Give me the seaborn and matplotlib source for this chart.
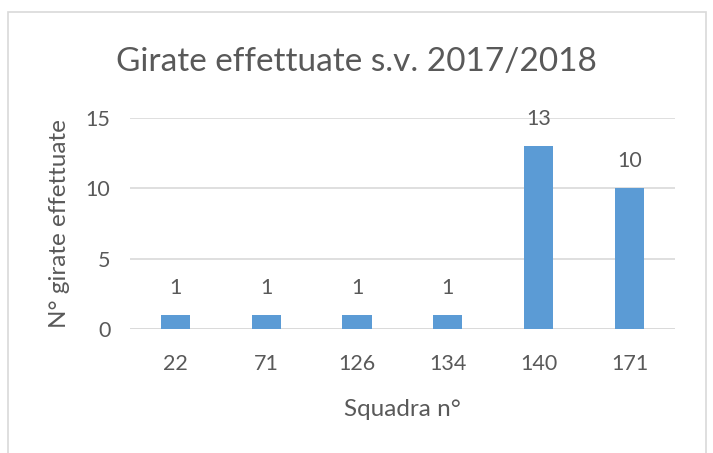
import matplotlib
matplotlib.use("Agg")
import matplotlib.pyplot as plt
import seaborn as sns
import pandas as pd
from matplotlib.patches import Rectangle

# -----------------------------------------------------
# Data
# -----------------------------------------------------

squadre = ["22", "71", "126", "134", "140", "171"]
girate = [1, 1, 1, 1, 13, 10]
y_ticks = [0, 5, 10, 15]

df = pd.DataFrame({"squadra": squadre, "girate": girate})

# -----------------------------------------------------
# Style
# -----------------------------------------------------

sns.set_style("white")
plt.rcParams["font.family"] = ["Lato", "DejaVu Sans"]

text_color = "#595959"
bar_color = "#5B9BD5"
grid_color = "#D9D9D9"

fig = plt.figure(figsize=(7.13, 4.53), dpi=100)
ax = fig.add_axes([0.182, 0.274, 0.765, 0.466])

sns.barplot(data=df, x="squadra", y="girate", color=bar_color,
            width=0.32, saturation=1, ax=ax, zorder=3, linewidth=0)

ax.set_ylim(0, 15)
ax.set_yticks(y_ticks)
ax.yaxis.grid(True, color=grid_color, linewidth=1.2, zorder=0)
ax.set_axisbelow(True)
for side in ["top", "right", "left", "bottom"]:
    ax.spines[side].set_visible(False)
ax.axhline(0, color=grid_color, linewidth=1.2, zorder=1)

ax.tick_params(axis="both", length=0, labelsize=15.5, labelcolor=text_color)
ax.tick_params(axis="x", pad=18)
ax.tick_params(axis="y", pad=14)

for container in ax.containers:
    ax.bar_label(container, padding=12, fontsize=15.5, color=text_color)

ax.set_xlabel("Squadra n°", fontsize=17.5, color=text_color, labelpad=18)
ax.set_ylabel("N° girate effettuate", fontsize=17.5, color=text_color, labelpad=11)

fig.text(0.5, 0.863, "Girate effettuate s.v. 2017/2018", ha="center", va="center",
         fontsize=24, color=text_color)

# chart border
fig.patches.append(Rectangle((8 / 713, -0.01), 698 / 713, 1 - 12 / 453 + 0.01,
                             transform=fig.transFigure, fill=False,
                             edgecolor="#D9D9D9", linewidth=1.2))

fig.savefig("out.png", dpi=100, facecolor="white")
plt.close()
